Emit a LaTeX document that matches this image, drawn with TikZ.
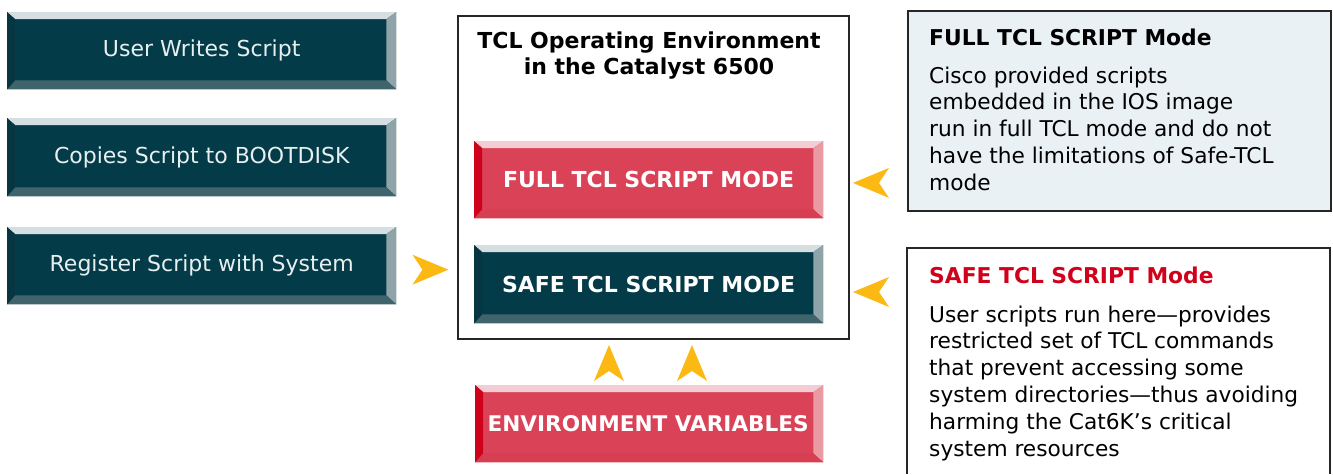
\documentclass[tikz,border=0pt]{standalone}
\usepackage{fontspec}
\setmainfont{DejaVu Sans}
\usetikzlibrary{calc}
\definecolor{tealface}{HTML}{033C48}
\definecolor{tealtop}{HTML}{D5DEE0}
\definecolor{tealright}{HTML}{8FA4A9}
\definecolor{tealbot}{HTML}{3F646C}
\definecolor{tealleft}{HTML}{053642}
\definecolor{redface}{HTML}{DA4357}
\definecolor{redtop}{HTML}{F3CDD3}
\definecolor{redright}{HTML}{E99AA3}
\definecolor{redleft}{HTML}{D0021B}
\definecolor{redbot}{HTML}{D63E52}
\definecolor{arrowyellow}{HTML}{FDB913}
\definecolor{infoblue}{HTML}{E9F1F4}
\definecolor{framegray}{HTML}{262626}
\definecolor{titlered}{HTML}{D0021B}
\definecolor{btntext}{HTML}{E8EFF0}
\newcommand\mybevel[5]{%
  \fill[#2] (#1.north west) -- (#1.north east) -- ($(#1.north east)+(-10pt,-7pt)$) -- ($(#1.north west)+(8pt,-7pt)$) -- cycle;
  \fill[#3] (#1.north east) -- (#1.south east) -- ($(#1.south east)+(-10pt,9pt)$) -- ($(#1.north east)+(-10pt,-7pt)$) -- cycle;
  \fill[#4] (#1.south west) -- (#1.south east) -- ($(#1.south east)+(-10pt,9pt)$) -- ($(#1.south west)+(8pt,9pt)$) -- cycle;
  \fill[#5] (#1.north west) -- ($(#1.north west)+(8pt,-7pt)$) -- ($(#1.south west)+(8pt,9pt)$) -- (#1.south west) -- cycle;
}
\newcommand\mychev[2]{%
  \fill[arrowyellow, shift={(#1)}, rotate=#2] (0pt,0pt) -- (-36pt,15pt) -- (-26pt,0pt) -- (-36pt,-15pt) -- cycle;
}
\tikzset{
  tealbtn/.style={fill=tealface, text=btntext, inner sep=0pt, anchor=north west,
    font=\fontsize{22}{26}\selectfont},
  redbtn/.style={fill=redface, text=white, inner sep=0pt, anchor=north west,
    font=\bfseries\fontsize{22}{26}\selectfont},
  darkmode/.style={fill=tealface, text=white, inner sep=0pt, anchor=north west,
    font=\bfseries\fontsize{22}{26}\selectfont},
  infotitle/.style={anchor=base west, inner sep=0pt, font=\bfseries\fontsize{21.8}{26}\selectfont},
  infobody/.style={anchor=north west, inner sep=0pt, align=left, font=\fontsize{21.7}{26.8}\selectfont},
  frame/.style={draw=framegray, line width=1.8pt}
}
\begin{document}
\begin{tikzpicture}[x=1pt,y=-1pt]
\useasboundingbox (0,0) rectangle (1333,474);
% left steps
\node[tealbtn, minimum width=389pt, minimum height=77pt] (write) at (7,12) {};
\mybevel{write}{tealtop}{tealright}{tealbot}{tealleft}
\node[text=btntext, font=\fontsize{22}{26}\selectfont] (writet) at (write.center) {User Writes Script};
\node[tealbtn, minimum width=389pt, minimum height=78pt] (copy) at (7,118) {};
\mybevel{copy}{tealtop}{tealright}{tealbot}{tealleft}
\node[text=btntext, font=\fontsize{22}{26}\selectfont] (copyt) at (copy.center) {Copies Script to BOOTDISK};
\node[tealbtn, minimum width=389pt, minimum height=77pt] (reg) at (7,227) {};
\mybevel{reg}{tealtop}{tealright}{tealbot}{tealleft}
\node[text=btntext, font=\fontsize{22}{26}\selectfont] (regt) at (reg.center) {Register Script with System};
% environment box
\node[frame, minimum width=391pt, minimum height=323pt, anchor=north west, inner sep=0pt] (env) at (457,15) {};
\node[anchor=north, align=center, inner sep=0pt, font=\bfseries\fontsize{22}{26}\selectfont] (envtitle) at (649,32) {TCL Operating Environment\\in the Catalyst 6500};
\node[redbtn, minimum width=349pt, minimum height=77pt] (full) at (474,141) {};
\mybevel{full}{redtop}{redright}{redbot}{redleft}
\node[text=white, font=\bfseries\fontsize{22}{26}\selectfont] (fullt) at (full.center) {FULL TCL SCRIPT MODE};
\node[darkmode, minimum width=349pt, minimum height=78pt] (safe) at (474,245) {};
\mybevel{safe}{tealtop}{tealright}{tealbot}{tealleft}
\node[text=white, font=\bfseries\fontsize{22}{26}\selectfont] (safet) at (safe.center) {SAFE TCL SCRIPT MODE};
\node[redbtn, minimum width=348pt, minimum height=77pt] (vars) at (475,385) {};
\mybevel{vars}{redtop}{redright}{redbot}{redleft}
\node[text=white, font=\bfseries\fontsize{21.6}{26}\selectfont] (varst) at ($(vars.center)+(-1pt,0pt)$) {ENVIRONMENT VARIABLES};
% info boxes
\node[frame, fill=infoblue, minimum width=423pt, minimum height=200pt, anchor=north west, inner sep=0pt] (fullinfo) at (907,10) {};
\node[infotitle] (fullinfot) at (929,45) {FULL TCL SCRIPT Mode};
\node[infobody] (fullinfob) at (929,66.5) {Cisco provided scripts\\embedded in the IOS image\\run in full TCL mode and do not\\have the limitations of Safe-TCL\\mode};
\coordinate (sa) at (907,474);
\coordinate (sb) at (907,248);
\coordinate (sc) at (1330,248);
\coordinate (sd) at (1330,474);
\draw[frame] (sa) -- (sb) -- (sc) -- (sd);
\node[infotitle, text=titlered] (safeinfot) at (929,283) {SAFE TCL SCRIPT Mode};
\node[infobody] (safeinfob) at (929,305.5) {User scripts run here—provides\\restricted set of TCL commands\\that prevent accessing some\\system directories—thus avoiding\\harming the Cat6K’s critical\\system resources};
% arrows
\coordinate (a1) at ($(reg.east)+(52pt,-4pt)$);
\mychev{a1}{0}
\coordinate (a2) at ($(fullinfo.west)+(-54pt,-72pt)$);
\mychev{a2}{180}
\coordinate (a3) at (853,292);
\mychev{a3}{180}
\coordinate (a4) at (609,345);
\mychev{a4}{90}
\coordinate (a5) at (692,345);
\mychev{a5}{90}
\end{tikzpicture}
\end{document}
